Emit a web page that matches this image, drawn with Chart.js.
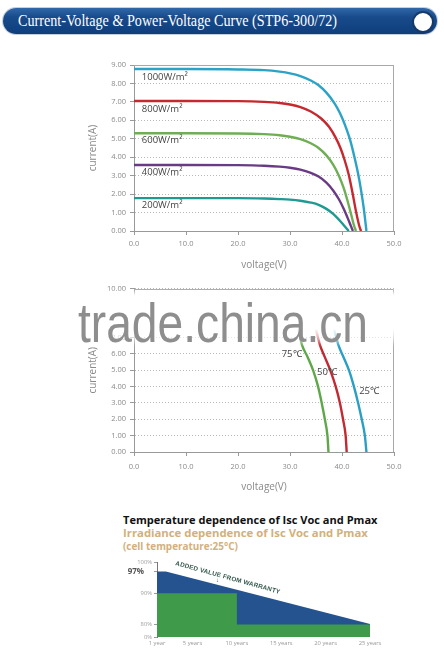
<!DOCTYPE html>
<html>
<head>
<meta charset="utf-8">
<script src="https://cdn.jsdelivr.net/npm/chart.js@4.4.1/dist/chart.umd.min.js"></script>
<style>
html,body{margin:0;padding:0;background:#fff;}
body{width:444px;height:668px;position:relative;overflow:hidden;font-family:"Open Sans",sans-serif;}
.abs{position:absolute;}
#banner{left:3px;top:8px;width:434px;height:26px;border-radius:13px;background:linear-gradient(#3068aa,#184b8b 35%,#0f3e7b);box-shadow:0 0 0 1px #c5d0de;}
#bannerText{left:18px;top:8px;height:26px;line-height:26px;color:#fff;font-family:"Liberation Serif","Times New Roman",serif;font-size:16px;white-space:nowrap;transform-origin:0 50%;}
#circle{left:412px;top:11px;width:18px;height:18px;border-radius:50%;background:#fff;border:2px solid #163b6b;}
.box{position:absolute;left:0;width:444px;}
#wmBg{left:60px;top:290px;width:350px;height:58px;background:linear-gradient(to bottom,rgba(255,255,255,0) 0%,#fff 8%,#fff 66%,rgba(255,255,255,0.6) 84%,rgba(255,255,255,0) 97%);filter:blur(1.5px);}
#wm{left:78px;top:295px;font-family:"Liberation Sans",Arial,sans-serif;font-size:56px;line-height:56px;height:56px;color:#8e8e8e;white-space:nowrap;transform-origin:0 50%;}
.t3{left:123px;font-weight:700;white-space:nowrap;line-height:12px;height:12px;}
#tA{top:514px;color:#111;font-size:11px;}
#tB{top:527px;color:#d3b07c;font-size:11px;}
#tC{top:540px;color:#d3b07c;font-size:11px;}
#added{left:228px;top:577px;transform:translate(-50%,-50%) rotate(15.5deg);font-family:"Liberation Sans",Arial,sans-serif;font-weight:700;font-size:6.3px;color:#33574b;white-space:nowrap;letter-spacing:0.2px;}
#arrow{left:216px;top:577px;font-size:6px;color:#33574b;line-height:6px;}
</style>
</head>
<body>
<div id="banner" class="abs"></div>
<div id="bannerText" class="abs">Current-Voltage &amp; Power-Voltage Curve (STP6-300/72)</div>
<div id="circle" class="abs"></div>

<div class="box" style="top:55px;height:225px"><canvas id="c1"></canvas></div>
<div class="box" style="top:280px;height:220px"><canvas id="c2"></canvas></div>
<div id="wmBg" class="abs"></div>
<div id="wm" class="abs">trade.china.cn</div>

<div id="tA" class="abs t3">Temperature dependence of Isc Voc and Pmax</div>
<div id="tB" class="abs t3">Irradiance dependence of Isc Voc and Pmax</div>
<div id="tC" class="abs t3">(cell temperature:25°C)</div>

<div class="box" style="top:555px;height:100px"><canvas id="c3"></canvas></div>
<div id="added" class="abs">ADDED VALUE FROM WARRANTY</div>
<div id="arrow" class="abs">↓</div>

<script>
// ---------- Chart 1: irradiance I-V curves ----------
const irrLabels = ["1000W/m²", "800W/m²", "600W/m²", "400W/m²", "200W/m²"];
const v1000 = [0, 10, 20, 25, 28, 30, 32, 34, 35.5, 37, 38.5, 39.6, 40.5, 41.6, 42.4, 43.1, 43.7, 44.2, 44.7];
const i1000 = [8.78, 8.78, 8.76, 8.72, 8.64, 8.55, 8.40, 8.16, 7.9, 7.5, 6.95, 6.4, 5.8, 4.9, 4.0, 3.1, 2.15, 1.2, 0];
const v800 = [0, 10, 20, 25, 28, 30, 32, 34, 36, 37.5, 38.7, 39.7, 40.5, 41.3, 42.0, 42.7, 43.3, 43.65];
const i800 = [7.05, 7.05, 7.04, 7.0, 6.94, 6.86, 6.72, 6.48, 6.1, 5.65, 5.1, 4.5, 3.85, 3.05, 2.1, 1.05, 0.3, 0];
const v600 = [0, 10, 20, 25, 28, 30, 32, 34, 35.5, 37, 38.3, 39.4, 40.3, 41.1, 41.8, 42.3, 42.7];
const i600 = [5.30, 5.30, 5.29, 5.25, 5.19, 5.11, 4.98, 4.76, 4.5, 4.1, 3.6, 3.0, 2.35, 1.6, 0.85, 0.3, 0];
const v400 = [0, 10, 20, 25, 28, 30, 32, 34, 35.5, 37, 38.3, 39.4, 40.3, 41.1, 41.7, 42.1];
const i400 = [3.58, 3.58, 3.57, 3.54, 3.49, 3.43, 3.33, 3.15, 2.95, 2.62, 2.2, 1.72, 1.22, 0.7, 0.28, 0];
const v200 = [0, 10, 20, 25, 28, 30, 32, 34, 35.5, 37, 38.3, 39.4, 40.3, 41.3];
const i200 = [1.78, 1.78, 1.78, 1.76, 1.73, 1.70, 1.64, 1.54, 1.42, 1.2, 0.93, 0.62, 0.33, 0];

// ---------- Chart 2: temperature I-V curves ----------
const tempLabels = ["25℃", "50℃", "75℃"];
const v25 = [38.5, 39.3, 40.3, 41.4, 42.3, 43.1, 43.8, 44.4, 44.7];
const i25 = [7.5, 6.55, 5.8, 4.95, 4.0, 3.0, 2.0, 1.0, 0];
const v50 = [35.0, 35.75, 36.7, 37.8, 38.8, 39.6, 40.2, 40.7, 40.9];
const i50 = [7.5, 6.55, 5.8, 4.95, 4.0, 3.0, 2.0, 1.0, 0];
const v75 = [31.6, 32.3, 33.4, 34.5, 35.4, 36.1, 36.7, 37.2, 37.4];
const i75 = [7.5, 6.55, 5.8, 4.95, 4.0, 3.0, 2.0, 1.0, 0];

// ---------- Chart 3: warranty ----------
const yearTicks = [1, 5, 10, 15, 20, 25];
const yearLabels = ["1 year", "5 years", "10 years", "15 years", "20 years", "25 years"];
const pctTicks = [76, 80, 90, 97, 100];
const pctLabels = ["0%", "80%", "90%", "97%", "100%"];
const linearYears = [1, 2, 25];
const linearValues = [97, 97, 80.2];
const stepYears = [1, 10, 10, 25];
const stepValues = [90, 90, 80, 80];

const pts = (xs, ys) => xs.map((x, i) => ({x: x, y: ys[i]}));

Chart.defaults.font.family = "'Open Sans', sans-serif";
Chart.defaults.animation = false;

const framePlugin = {
  id: 'frame',
  beforeDatasetsDraw(chart, args, opts) {
    if (!opts || !opts.color) return;
    const {ctx, chartArea: a} = chart;
    ctx.save();
    ctx.strokeStyle = opts.color;
    ctx.lineWidth = 1;
    ctx.beginPath();
    const t = Math.round(a.top) + 0.5, r = Math.round(a.right) - 0.5;
    ctx.moveTo(a.left, t); ctx.lineTo(r, t); ctx.lineTo(r, a.bottom);
    ctx.stroke();
    ctx.restore();
  }
};
const curveLabelPlugin = {
  id: 'curveLabels',
  afterDatasetsDraw(chart, args, opts) {
    if (!opts || !opts.items) return;
    const {ctx, scales} = chart;
    ctx.save();
    ctx.font = opts.font;
    ctx.fillStyle = opts.color;
    ctx.textAlign = 'left';
    ctx.textBaseline = 'middle';
    opts.items.forEach(it => ctx.fillText(it.text, scales.x.getPixelForValue(it.x), scales.y.getPixelForValue(it.y)));
    ctx.restore();
  }
};
Chart.register(framePlugin, curveLabelPlugin);

const tickColor = '#8a8a8a';
const line = (label, xs, ys, color) => ({
  label, data: pts(xs, ys), borderColor: color, backgroundColor: color,
  borderWidth: 2.4, pointRadius: 0, cubicInterpolationMode: 'monotone', fill: false
});

function ivOptions(cfg) {
  return {
    responsive: true, maintainAspectRatio: false,
    layout: {padding: {top: cfg.top, right: 50, left: 0, bottom: 0}},
    plugins: {
      legend: {display: false}, tooltip: {enabled: false},
      frame: {color: '#a8a8a8'},
      curveLabels: {font: "9.5px 'Open Sans', sans-serif", color: '#444', items: cfg.labels}
    },
    scales: {
      x: {
        type: 'linear', min: 0, max: 50,
        ticks: {stepSize: 10, color: tickColor, font: {size: 7.5}, padding: cfg.xPad, maxRotation: 0,
                callback: v => Number(v).toFixed(1)},
        grid: {drawOnChartArea: false, drawTicks: true, tickLength: 4, color: '#999'},
        border: {display: true, color: '#999', width: 1},
        title: {display: true, text: 'voltage(V)', color: tickColor, font: {size: 10}, padding: {top: 0, bottom: cfg.titlePad}},
        afterFit: s => { s.height = cfg.xH; }
      },
      y: {
        type: 'linear', min: 0, max: cfg.ymax,
        ticks: {stepSize: 1, color: tickColor, font: {size: 7.5}, padding: 4, callback: v => Number(v).toFixed(2)},
        grid: {color: '#b8b8b8', tickColor: '#999', tickLength: 4, lineWidth: 1},
        border: {display: true, color: '#999', width: 1, dash: [1, 2]},
        title: {display: true, text: 'current(A)', color: tickColor, font: {size: 10}, padding: {top: 87, bottom: 0}},
        afterFit: s => { s.width = 134; }
      }
    }
  };
}

new Chart(document.getElementById('c1'), {
  type: 'line',
  data: {datasets: [
    line(irrLabels[0], v1000, i1000, '#2ba3c6'),
    line(irrLabels[1], v800, i800, '#c6282f'),
    line(irrLabels[2], v600, i600, '#6fae55'),
    line(irrLabels[3], v400, i400, '#6a3b85'),
    line(irrLabels[4], v200, i200, '#1f9a93')
  ]},
  options: ivOptions({
    top: 10, ymax: 9, xPad: 4, titlePad: 9, xH: 49,
    labels: [
      {text: irrLabels[0], x: 1.5, y: 8.35},
      {text: irrLabels[1], x: 1.5, y: 6.6},
      {text: irrLabels[2], x: 1.5, y: 4.9},
      {text: irrLabels[3], x: 1.5, y: 3.2},
      {text: irrLabels[4], x: 1.5, y: 1.38}
    ]
  })
});

new Chart(document.getElementById('c2'), {
  type: 'line',
  data: {datasets: [
    line(tempLabels[0], v25, i25, '#2a9fc4'),
    line(tempLabels[1], v50, i50, '#c22a33'),
    line(tempLabels[2], v75, i75, '#5fa84a')
  ]},
  options: ivOptions({
    top: 6, ymax: 10, xPad: 6, titlePad: 7, xH: 48,
    labels: [
      {text: tempLabels[2], x: 28.4, y: 5.98},
      {text: tempLabels[1], x: 35.2, y: 4.9},
      {text: tempLabels[0], x: 43.3, y: 3.73}
    ]
  })
});

new Chart(document.getElementById('c3'), {
  type: 'line',
  data: {datasets: [
    {label: 'warranty step', data: pts(stepYears, stepValues), fill: 'start', backgroundColor: '#3f9a49',
     borderColor: '#3f9a49', borderWidth: 0, pointRadius: 0, tension: 0},
    {label: 'linear warranty', data: pts(linearYears, linearValues), fill: 'start', backgroundColor: '#24538f',
     borderColor: '#24538f', borderWidth: 0, pointRadius: 0, tension: 0}
  ]},
  options: {
    responsive: true, maintainAspectRatio: false,
    layout: {padding: {top: 7, right: 74, left: 0, bottom: 0}},
    plugins: {legend: {display: false}, tooltip: {enabled: false}},
    scales: {
      x: {
        type: 'linear', min: 1, max: 25,
        afterBuildTicks: s => { s.ticks = yearTicks.map(v => ({value: v})); },
        ticks: {color: '#999', font: {size: 5.8}, padding: 3, maxRotation: 0, autoSkip: false,
                callback: v => yearLabels[yearTicks.indexOf(v)]},
        grid: {display: false, drawTicks: false},
        border: {display: false},
        afterFit: s => { s.height = 18; }
      },
      y: {
        type: 'linear', min: 76, max: 100,
        afterBuildTicks: s => { s.ticks = pctTicks.map(v => ({value: v})); },
        ticks: {
          autoSkip: false, padding: 2,
          color: c => c.tick && c.tick.value === 97 ? '#555' : '#a0a0a0',
          font: c => c.tick && c.tick.value === 97 ? {size: 8, weight: 'bold'} : {size: 5.8},
          callback: v => { const l = pctLabels[pctTicks.indexOf(v)]; return v === 97 ? l + '\u2003' : l; }
        },
        grid: {drawOnChartArea: false, tickLength: 3, tickColor: '#999'},
        border: {display: true, color: '#777', width: 1},
        afterFit: s => { s.width = 157; }
      }
    }
  }
});

// fit decorative texts to their measured widths in the reference
function fitScale(id, w) {
  const el = document.getElementById(id);
  const r = el.getBoundingClientRect().width;
  el.style.transform = 'scaleX(' + (w / r) + ')';
}
function fitSize(id, w) {
  const el = document.getElementById(id);
  const fs = parseFloat(getComputedStyle(el).fontSize);
  const r = el.getBoundingClientRect().width;
  const n = fs * w / r;
  el.style.fontSize = n + 'px';
  return n;
}
fitScale('bannerText', 319);
fitScale('wm', 290);
fitSize('tA', 255);
fitSize('tB', 245);
fitSize('tC', 115);
</script>
</body>
</html>
